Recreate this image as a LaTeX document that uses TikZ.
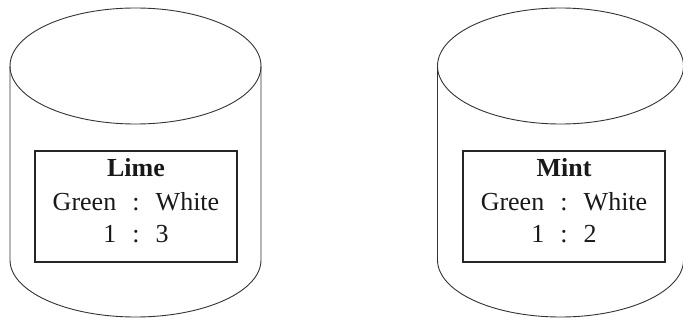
\documentclass[tikz,border=0pt]{standalone}
\usepackage{fontspec}
\setmainfont{LiberationSerif}[Extension=.ttf, UprightFont=*-Regular, BoldFont=*-Bold]
\newcommand{\colsep}{\hspace{0.62em}:\hspace{0.62em}}
\tikzset{
  rim/.style={draw=black!80, line width=0.9pt},
  labelbox/.style={draw=black!85, line width=1.1pt, minimum width=202pt, minimum height=111pt, inner sep=0pt},
  txt/.style={font=\fontsize{26}{30}\selectfont, anchor=base, inner sep=0pt, text=black!90},
}
\begin{document}
\begin{tikzpicture}[x=1pt,y=-1pt]
\useasboundingbox (0,0) rectangle (683,320);
% left cylinder
\draw[rim] (135.5,66) ellipse [x radius=125.5pt, y radius=58pt];
\draw[rim] (10,66) -- (10,260) arc[start angle=180, end angle=360, x radius=125.5pt, y radius=57pt] -- (261,66);
\node[labelbox] (limebox) at (136,206.5) {};
\node[txt] (lime) at (136,177) {\bfseries Lime};
\node[txt] (limecol) at (136,211) {Green\colsep White};
\node[txt] (limerat) at (136,243) {1\colsep 3};
% right cylinder
\draw[rim] (560.5,66) ellipse [x radius=123pt, y radius=58pt];
\draw[rim] (437.5,66) -- (437.5,260) arc[start angle=180, end angle=360, x radius=123pt, y radius=57pt] -- (683.5,66);
\node[labelbox] (mintbox) at (564,206.5) {};
\node[txt] (mint) at (564,177) {\bfseries Mint};
\node[txt] (mintcol) at (564,211) {Green\colsep White};
\node[txt] (mintrat) at (564,243) {1\colsep 2};
\end{tikzpicture}
\end{document}
